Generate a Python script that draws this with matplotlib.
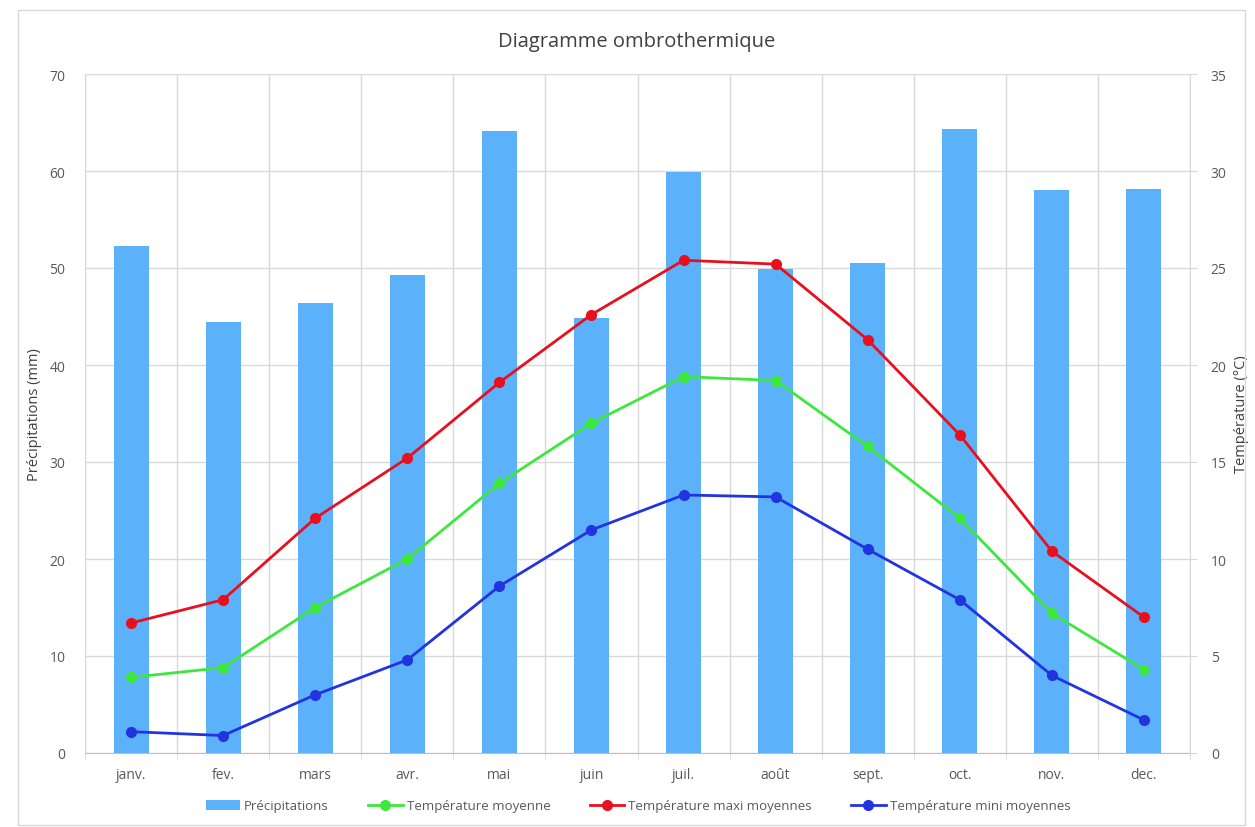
import matplotlib
matplotlib.use("Agg")
import matplotlib.pyplot as plt
from matplotlib.patches import Rectangle
import numpy as np

months = ["janv.", "fev.", "mars", "avr.", "mai", "juin", "juil.", "août", "sept.", "oct.", "nov.", "dec."]
precip = [52.3, 44.4, 46.4, 49.3, 64.1, 44.8, 59.9, 49.9, 50.5, 64.3, 58.0, 58.1]
t_moy = [3.9, 4.4, 7.5, 10.0, 13.9, 17.0, 19.4, 19.2, 15.8, 12.1, 7.2, 4.3]
t_max = [6.7, 7.9, 12.1, 15.2, 19.1, 22.6, 25.4, 25.2, 21.3, 16.4, 10.4, 7.0]
t_min = [1.1, 0.9, 3.0, 4.8, 8.6, 11.5, 13.3, 13.2, 10.5, 7.9, 4.0, 1.7]
p_ticks = [0, 10, 20, 30, 40, 50, 60, 70]
t_ticks = [0, 5, 10, 15, 20, 25, 30, 35]

plt.rcParams['font.family'] = ['Open Sans', 'DejaVu Sans']

fig = plt.figure(figsize=(12.55, 8.28), dpi=100)
fig.patches.append(Rectangle((18/1255, 2/828), 1227/1255, 815/828, transform=fig.transFigure,
                             fill=False, edgecolor='#d9d9d9', linewidth=1))

ax = fig.add_axes([85/1255, 1-754/828, (1190-85)/1255, (754-75)/828])
x = np.arange(len(months))
grid_c = '#d9d9d9'
txt_c = '#595959'

bars = ax.bar(x, precip, width=0.38, color='#5cb1fb', zorder=2, label='Précipitations')
ax.set_xlim(-0.5, len(months) - 0.5)
ax.set_ylim(0, 70)
ax.set_yticks(p_ticks)
ax.set_xticks(x)
ax.set_xticklabels(months)
ax.set_xticks(np.arange(-0.5, len(months) + 0.5, 1), minor=True)
ax.grid(axis='y', color=grid_c, linewidth=1, zorder=0)
ax.grid(axis='x', which='minor', color=grid_c, linewidth=1, zorder=0)
ax.tick_params(axis='x', which='major', length=0, pad=10, labelsize=10, labelcolor=txt_c)
ax.tick_params(axis='x', which='minor', length=5, color=grid_c)
ax.tick_params(axis='y', length=0, pad=14, labelsize=10, labelcolor=txt_c)
for s in ['top', 'right']:
    ax.spines[s].set_visible(False)
ax.spines['left'].set_color(grid_c)
ax.spines['bottom'].set_color('#bfbfbf')
ax.set_ylabel('Précipitations (mm)', fontsize=10.5, color='#404040')
ax.yaxis.set_label_coords((42 - 85) / 1105, 0.5)

ax2 = ax.twinx()
ax2.set_ylim(0, 35)
ax2.set_yticks(t_ticks)
l1, = ax2.plot(x, t_moy, color='#3de83d', linewidth=2, marker='o', markersize=7, label='Température moyenne')
l2, = ax2.plot(x, t_max, color='#e8101e', linewidth=2, marker='o', markersize=7, label='Température maxi moyennes')
l3, = ax2.plot(x, t_min, color='#2233e0', linewidth=2, marker='o', markersize=7, label='Température mini moyennes')
for s in ['top', 'left', 'bottom']:
    ax2.spines[s].set_visible(False)
ax2.spines['right'].set_color(grid_c)
ax2.tick_params(axis='y', length=5, color=grid_c, pad=10, labelsize=10, labelcolor=txt_c)
ax2.set_ylabel('Température (°C)', fontsize=10.5, color='#404040', rotation=90)
ax2.yaxis.set_label_coords((1234 - 85) / 1105, 0.5)

fig.text(637/1255, 1-42/828, 'Diagramme ombrothermique', ha='center', va='center', fontsize=14.5, color='#404040')

leg = fig.legend(handles=[bars, l1, l2, l3], loc='center', bbox_to_anchor=(638/1255, 1-807/828),
                 ncol=4, frameon=False, fontsize=9.5, handlelength=2.6, columnspacing=3.0, handletextpad=0.3)
for t in leg.get_texts():
    t.set_color(txt_c)

fig.savefig('out.png', dpi=100)
